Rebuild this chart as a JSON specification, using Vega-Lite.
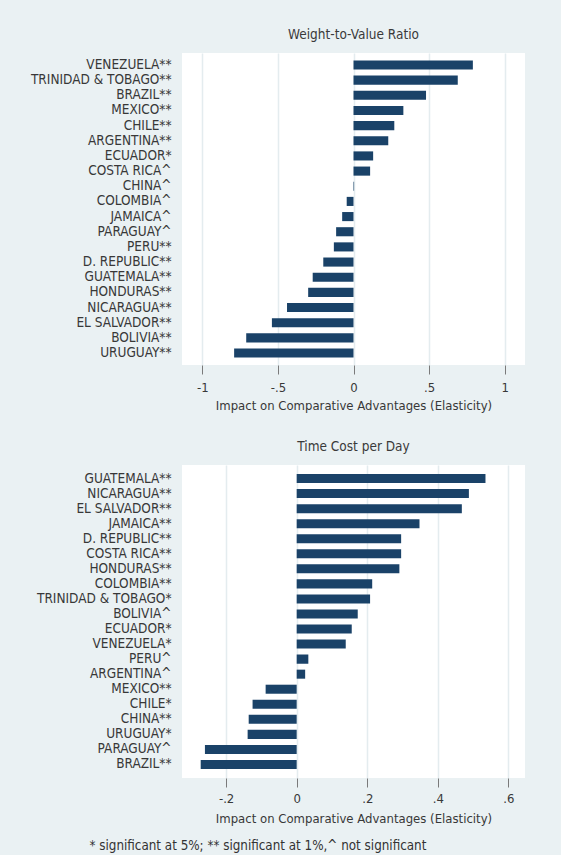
{
  "$schema": "https://vega.github.io/schema/vega-lite/v6.json",
  "background": "#eaf1f3",
  "padding": {"left": 30, "top": 27, "right": 36, "bottom": 2},
  "datasets": {
    "w2v": [
      {"country": "VENEZUELA**", "value": 0.79},
      {"country": "TRINIDAD & TOBAGO**", "value": 0.69},
      {"country": "BRAZIL**", "value": 0.48},
      {"country": "MEXICO**", "value": 0.33},
      {"country": "CHILE**", "value": 0.27},
      {"country": "ARGENTINA**", "value": 0.23},
      {"country": "ECUADOR*", "value": 0.13},
      {"country": "COSTA RICA^", "value": 0.11},
      {"country": "CHINA^", "value": 0.004},
      {"country": "COLOMBIA^", "value": -0.045},
      {"country": "JAMAICA^", "value": -0.075},
      {"country": "PARAGUAY^", "value": -0.115},
      {"country": "PERU**", "value": -0.13},
      {"country": "D. REPUBLIC**", "value": -0.2},
      {"country": "GUATEMALA**", "value": -0.27},
      {"country": "HONDURAS**", "value": -0.3},
      {"country": "NICARAGUA**", "value": -0.44},
      {"country": "EL SALVADOR**", "value": -0.54},
      {"country": "BOLIVIA**", "value": -0.71},
      {"country": "URUGUAY**", "value": -0.79}
    ],
    "tcd": [
      {"country": "GUATEMALA**", "value": 0.535},
      {"country": "NICARAGUA**", "value": 0.488},
      {"country": "EL SALVADOR**", "value": 0.468},
      {"country": "JAMAICA**", "value": 0.348},
      {"country": "D. REPUBLIC**", "value": 0.296},
      {"country": "COSTA RICA**", "value": 0.296},
      {"country": "HONDURAS**", "value": 0.291},
      {"country": "COLOMBIA**", "value": 0.214},
      {"country": "TRINIDAD & TOBAGO*", "value": 0.208},
      {"country": "BOLIVIA^", "value": 0.173},
      {"country": "ECUADOR*", "value": 0.156},
      {"country": "VENEZUELA*", "value": 0.139},
      {"country": "PERU^", "value": 0.033},
      {"country": "ARGENTINA^", "value": 0.024},
      {"country": "MEXICO**", "value": -0.088},
      {"country": "CHILE*", "value": -0.125},
      {"country": "CHINA**", "value": -0.136},
      {"country": "URUGUAY*", "value": -0.139},
      {"country": "PARAGUAY^", "value": -0.26},
      {"country": "BRAZIL**", "value": -0.272}
    ]
  },
  "title": {
    "text": "* significant at 5%; ** significant at 1%,^ not significant",
    "orient": "bottom",
    "anchor": "start",
    "dx": 59,
    "offset": 14,
    "fontSize": 13.3,
    "fontWeight": "normal",
    "color": "#333333"
  },
  "spacing": 27,
  "vconcat": [
    {
      "width": 343,
      "height": 312,
      "data": {"name": "w2v"},
      "title": {"text": "Weight-to-Value Ratio", "offset": 12},
      "mark": {"type": "bar", "color": "#1a4268"},
      "encoding": {
        "y": {
          "field": "country",
          "type": "nominal",
          "sort": null,
          "scale": {"paddingInner": 0.4, "paddingOuter": 0.49},
          "axis": {"title": null, "domain": false, "ticks": false, "grid": false, "labelPadding": 11}
        },
        "x": {
          "field": "value",
          "type": "quantitative",
          "scale": {"domain": [-1.135, 1.135], "nice": false, "zero": false},
          "axis": {
            "values": [-1, -0.5, 0, 0.5, 1],
            "labelExpr": "replace('' + datum.value, '0.', '.')",
            "title": "Impact on Comparative Advantages (Elasticity)"
          }
        }
      }
    },
    {
      "width": 343,
      "height": 313,
      "data": {"name": "tcd"},
      "title": {"text": "Time Cost per Day", "offset": 12},
      "mark": {"type": "bar", "color": "#1a4268"},
      "encoding": {
        "y": {
          "field": "country",
          "type": "nominal",
          "sort": null,
          "scale": {"paddingInner": 0.4, "paddingOuter": 0.6},
          "axis": {"title": null, "domain": false, "ticks": false, "grid": false, "labelPadding": 11}
        },
        "x": {
          "field": "value",
          "type": "quantitative",
          "scale": {"domain": [-0.325, 0.647], "nice": false, "zero": false},
          "axis": {
            "values": [-0.2, 0, 0.2, 0.4, 0.6],
            "labelExpr": "replace('' + datum.value, '0.', '.')",
            "labelPadding": 5,
            "titlePadding": 7,
            "title": "Impact on Comparative Advantages (Elasticity)"
          }
        }
      }
    }
  ],
  "config": {
    "font": "DejaVu Sans Condensed, Liberation Sans",
    "view": {"fill": "white", "stroke": null},
    "title": {"fontSize": 13.5, "fontWeight": "normal", "color": "#3a3a3a", "font": "DejaVu Sans Condensed, Liberation Sans"},
    "axis": {
      "labelFont": "DejaVu Sans Condensed, Liberation Sans",
      "titleFont": "DejaVu Sans Condensed, Liberation Sans",
      "labelFontSize": 13.5,
      "titleFontSize": 13,
      "titleFontWeight": "normal",
      "labelColor": "#383838",
      "titleColor": "#383838"
    },
    "axisX": {
      "domain": false,
      "tickSize": 9,
      "tickColor": "#7a7a7a",
      "tickWidth": 1,
      "grid": true,
      "gridColor": "#e4ecef",
      "gridWidth": 1.5,
      "labelFontSize": 13,
      "labelPadding": 7,
      "titlePadding": 5
    }
  }
}
